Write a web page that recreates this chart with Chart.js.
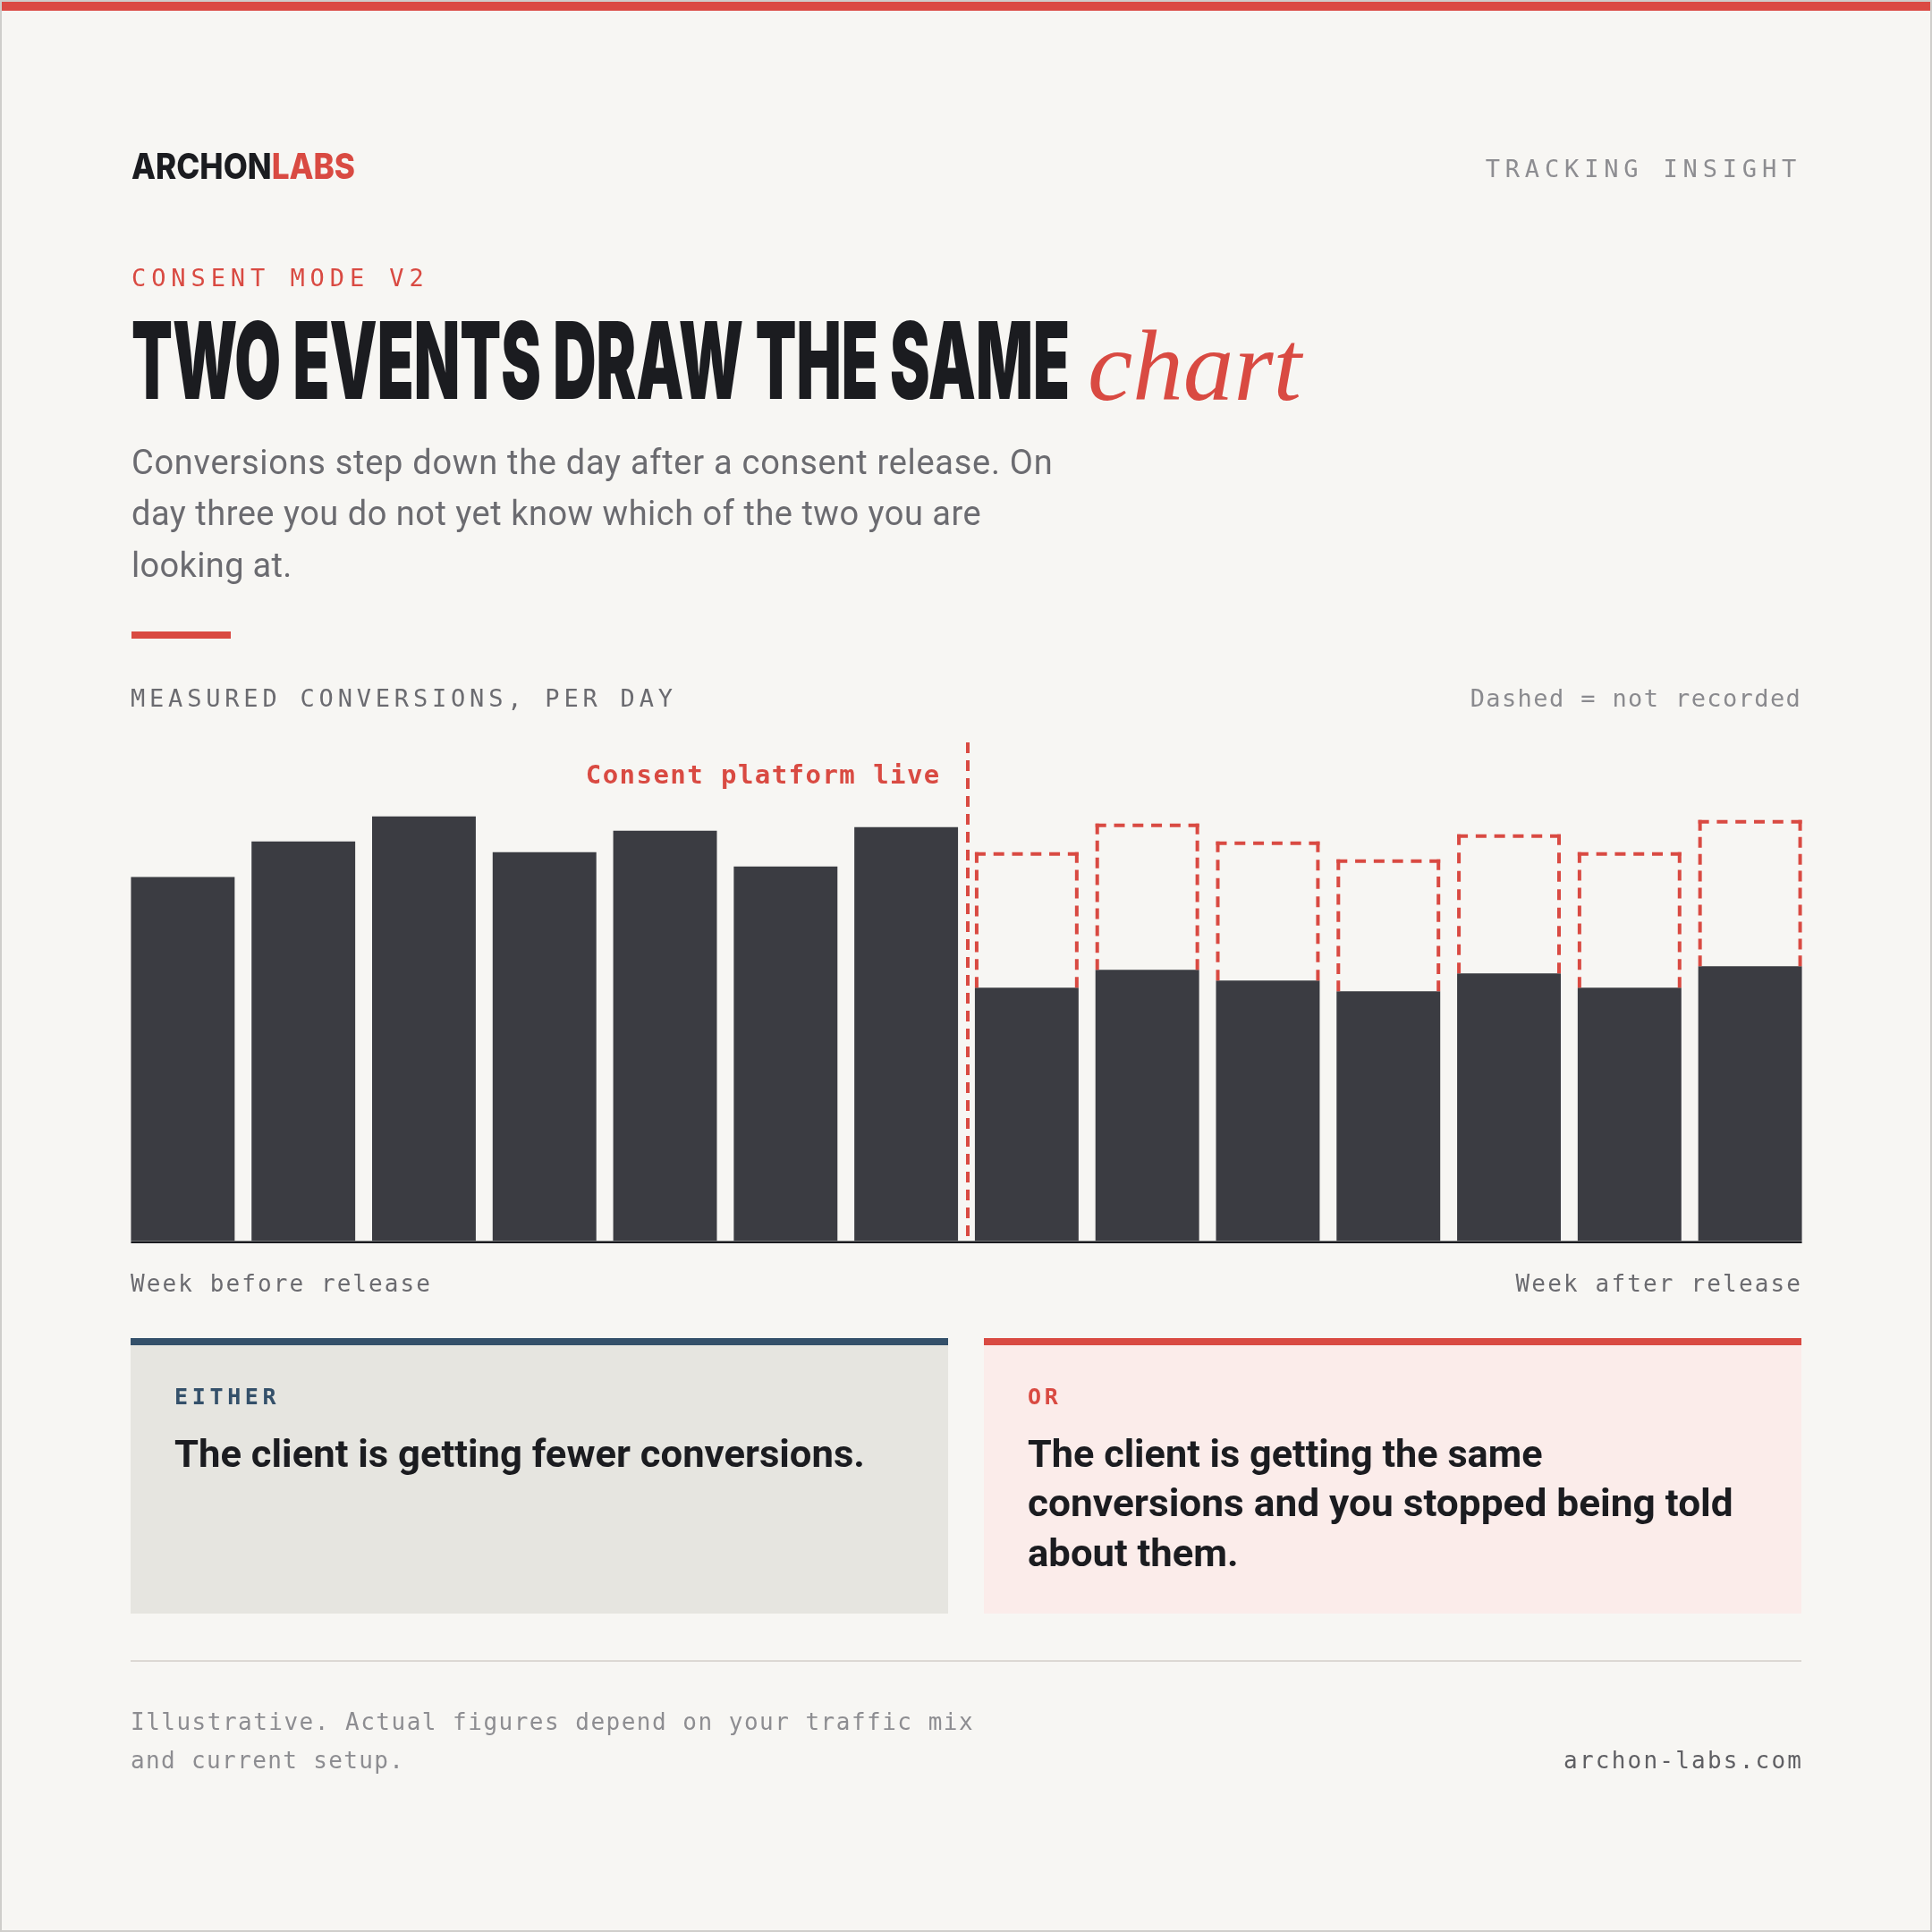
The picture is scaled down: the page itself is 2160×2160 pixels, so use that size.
<!DOCTYPE html>
<html>
<head>
<meta charset="utf-8">
<script src="https://cdn.jsdelivr.net/npm/chart.js@4.4.1/dist/chart.umd.min.js"></script>
<style>
  html, body { margin: 0; padding: 0; background: #f7f6f3; }
  #page { position: relative; width: 2160px; height: 2160px; background: #f7f6f3; overflow: hidden; }
  #frame { position: absolute; left: 0; top: 0; width: 2160px; height: 2160px; box-sizing: border-box; border: 2px solid #cfcecb; pointer-events: none; }
  #topbar { position: absolute; left: 0; top: 0; width: 2160px; height: 12px; background: #db4a43; }
  .t { position: absolute; white-space: nowrap; line-height: 1; transform-origin: 0 0; }
  .bl { display: inline-block; width: 0; height: 0; }
  .box { position: absolute; }
  #chartWrap { position: absolute; left: 136.6px; top: 829px; width: 1887px; height: 562px; }
</style>
</head>
<body>
<div id="page">
  <div id="topbar"></div>
  <div class="box" style="left:147px;top:706px;width:111px;height:8px;background:#d94a42;"></div>
  <div class="box" style="left:146px;top:1496px;width:914px;height:308px;background:#e6e5e0;border-top:8px solid #34506a;box-sizing:border-box;"></div>
  <div class="box" style="left:1100px;top:1496px;width:914px;height:308px;background:#fbecea;border-top:8px solid #d94a42;box-sizing:border-box;"></div>
  <div class="box" style="left:146px;top:1856px;width:1868px;height:2px;background:#dcd8d3;"></div>
  <div id="chartWrap"><canvas id="c" width="1887" height="562" style="width:1887px;height:562px;"></canvas></div>
  <div id="frame"></div>
</div>
<script>
// ---------------- data ----------------
const days = ['D-7','D-6','D-5','D-4','D-3','D-2','D-1','D+1','D+2','D+3','D+4','D+5','D+6','D+7'];
const recorded = [102, 112, 119, 109, 115, 105, 116, 71, 76, 73, 70, 75, 71, 77];
const expected = [null, null, null, null, null, null, null, 109, 117, 112, 107, 114, 109, 118];
const notRecorded = expected.map((e, i) => (e == null ? null : e - recorded[i]));
const releaseAfterIndex = 6; // last day before release
const yMax = 140;

// ---------------- styles ----------------
const RED = '#d94a42';
const DARK = '#3b3c42';
const INK = '#1b1c20';

function dashLine(ctx, x1, y1, x2, y2, d, g) {
  const L = Math.hypot(x2 - x1, y2 - y1);
  const n = Math.max(1, Math.round((L + g) / (d + g)));
  const gap = n > 1 ? (L - n * d) / (n - 1) : 0;
  ctx.setLineDash([d, gap]);
  ctx.beginPath();
  ctx.moveTo(x1, y1);
  ctx.lineTo(x2, y2);
  ctx.stroke();
}

const overlay = {
  id: 'overlay',
  afterDatasetsDraw(chart) {
    const ctx = chart.ctx;
    const area = chart.chartArea;
    const m0 = chart.getDatasetMeta(0).data;
    const m1 = chart.getDatasetMeta(1).data;
    const lw = 4;
    ctx.save();
    ctx.strokeStyle = RED;
    ctx.lineWidth = lw;
    ctx.lineCap = 'butt';
    // dashed "not recorded" boxes
    m1.forEach((el, i) => {
      if (notRecorded[i] == null) return;
      const left = el.x - el.width / 2, right = el.x + el.width / 2;
      const top = el.y, base = el.base;
      dashLine(ctx, left, top + lw / 2, right, top + lw / 2, 12, 8);
      dashLine(ctx, left + lw / 2, top, left + lw / 2, base, 12, 8);
      dashLine(ctx, right - lw / 2, top, right - lw / 2, base, 12, 8);
    });
    // release marker
    const xs = chart.scales.x;
    const xl = xs.getPixelForValue(releaseAfterIndex + 0.5) + 1.5;
    ctx.setLineDash([12, 8]);
    ctx.beginPath();
    ctx.moveTo(xl, area.top + 1);
    ctx.lineTo(xl, area.bottom);
    ctx.stroke();
    // baseline
    ctx.setLineDash([]);
    const first = m0[0], last = m0[m0.length - 1];
    ctx.fillStyle = INK;
    ctx.fillRect(first.x - first.width / 2, area.bottom, (last.x + last.width / 2) - (first.x - first.width / 2), 2.5);
    ctx.restore();
  }
};

new Chart(document.getElementById('c'), {
  type: 'bar',
  data: {
    labels: days,
    datasets: [
      { label: 'Recorded', data: recorded, backgroundColor: DARK, stack: 's', barPercentage: 0.86, categoryPercentage: 1 },
      { label: 'Not recorded', data: notRecorded, backgroundColor: 'rgba(0,0,0,0)', stack: 's', barPercentage: 0.86, categoryPercentage: 1 }
    ]
  },
  options: {
    responsive: false,
    animation: false,
    layout: { padding: { top: 0, bottom: 3.5, left: 0, right: 0 } },
    plugins: { legend: { display: false }, tooltip: { enabled: false } },
    scales: {
      x: { display: false, stacked: true, offset: true },
      y: { display: false, stacked: true, min: 0, max: yMax }
    }
  },
  plugins: [overlay]
});

// ---------------- text ----------------
const MONO = '"DejaVu Sans Mono", "Liberation Mono", monospace';
const SANS = 'Roboto, "Noto Sans", sans-serif';
const HEAD = 'Inter, Roboto, sans-serif';
const texts = [
  { t: 'ARCHON<span style="color:' + RED + '">LABS</span>', f: HEAD, w: 800, s: 40, c: INK, x0: 147, x1: 397, b: 200.3, fit: 'scale' },
  { t: 'TRACKING INSIGHT', f: MONO, w: 400, s: 27, c: '#8d8d91', x0: 1660.7, x1: 2008.3, b: 198.3, fit: 'ls' },
  { t: 'CONSENT MODE V2', f: MONO, w: 400, s: 27, c: RED, x0: 147, x1: 473.7, b: 320.3, fit: 'ls' },
  { t: 'TWO EVENTS DRAW THE SAME', f: HEAD, w: 900, s: 120, c: INK, x0: 147, x1: 1196, b: 446, fit: 'scale' },
  { t: 'chart', f: '"Liberation Serif", "DejaVu Serif", serif', w: 400, st: 'italic', s: 116, c: RED, x0: 1216, x1: 1455, b: 446.7, fit: 'size' },
  { t: 'Conversions step down the day after a consent release. On', f: SANS, w: 400, s: 38, c: '#6b6b70', x0: 147, x1: 1176.7, b: 530, fit: 'ls' },
  { t: 'day three you do not yet know which of the two you are', f: SANS, w: 400, s: 38, c: '#6b6b70', x0: 147, x1: 1096.7, b: 587.3, fit: 'ls' },
  { t: 'looking at.', f: SANS, w: 400, s: 38, c: '#6b6b70', x0: 147, x1: 326.4, b: 645, fit: 'ls' },
  { t: 'MEASURED CONVERSIONS, PER DAY', f: MONO, w: 400, s: 27, c: '#6b6b70', x0: 146, x1: 752, b: 790, fit: 'ls' },
  { t: 'Dashed = not recorded', f: MONO, w: 400, s: 27, c: '#8a8a8e', x0: 1643.7, x1: 2012.8, b: 790, fit: 'ls' },
  { t: 'Consent platform live', f: MONO, w: 700, s: 29, c: RED, x0: 654.8, x1: 1050.3, b: 876, fit: 'ls' },
  { t: 'Week before release', f: MONO, w: 400, s: 26, c: '#6b6b70', x0: 146, x1: 481, b: 1444, fit: 'ls' },
  { t: 'Week after release', f: MONO, w: 400, s: 26, c: '#6b6b70', x0: 1694.5, x1: 2013, b: 1444, fit: 'ls' },
  { t: 'EITHER', f: MONO, w: 700, s: 25, c: '#34506a', x0: 195, x1: 308.6, b: 1570, fit: 'ls' },
  { t: 'OR', f: MONO, w: 700, s: 25, c: RED, x0: 1149, x1: 1182.7, b: 1570, fit: 'ls' },
  { t: 'The client is getting fewer conversions.', f: SANS, w: 700, s: 42, c: INK, x0: 195, x1: 967, b: 1640, fit: 'scale' },
  { t: 'The client is getting the same', f: SANS, w: 700, s: 42, c: INK, x0: 1149, x1: 1724.6, b: 1640, fit: 'scale' },
  { t: 'conversions and you stopped being told', f: SANS, w: 700, s: 42, c: INK, x0: 1149, x1: 1937.7, b: 1695, fit: 'scale' },
  { t: 'about them.', f: SANS, w: 700, s: 42, c: INK, x0: 1149, x1: 1384.7, b: 1750.7, fit: 'scale' },
  { t: 'Illustrative. Actual figures depend on your traffic mix', f: MONO, w: 400, s: 26, c: '#8d8d91', x0: 146, x1: 1087.6, b: 1934, fit: 'ls' },
  { t: 'and current setup.', f: MONO, w: 400, s: 26, c: '#8d8d91', x0: 146, x1: 451, b: 1976.7, fit: 'ls' },
  { t: 'archon-labs.com', f: MONO, w: 400, s: 26, c: '#5f5f63', x0: 1748, x1: 2014, b: 1976.7, fit: 'ls' }
];

const page = document.getElementById('page');
texts.forEach(sp => {
  const el = document.createElement('div');
  el.className = 't';
  el.innerHTML = '<span class="tx">' + sp.t + '</span><span class="bl"></span>';
  el.style.fontFamily = sp.f;
  el.style.fontWeight = sp.w;
  el.style.fontStyle = sp.st || 'normal';
  el.style.fontSize = sp.s + 'px';
  el.style.color = sp.c;
  el.style.left = sp.x0 + 'px';
  el.style.top = '0px';
  page.appendChild(el);
  const tx = el.querySelector('.tx');
  const target = sp.x1 - sp.x0;
  let w0 = tx.getBoundingClientRect().width;
  if (sp.fit === 'ls') {
    const n = tx.textContent.length;
    if (n > 1) tx.style.letterSpacing = ((target - w0) / (n - 1)) + 'px';
  } else if (sp.fit === 'scale') {
    el.style.transform = 'scaleX(' + (target / w0) + ')';
  } else if (sp.fit === 'size') {
    el.style.fontSize = (sp.s * target / w0) + 'px';
  }
  const bl = el.querySelector('.bl').offsetTop;
  el.style.top = (sp.b - bl) + 'px';
});
</script>
</body>
</html>
